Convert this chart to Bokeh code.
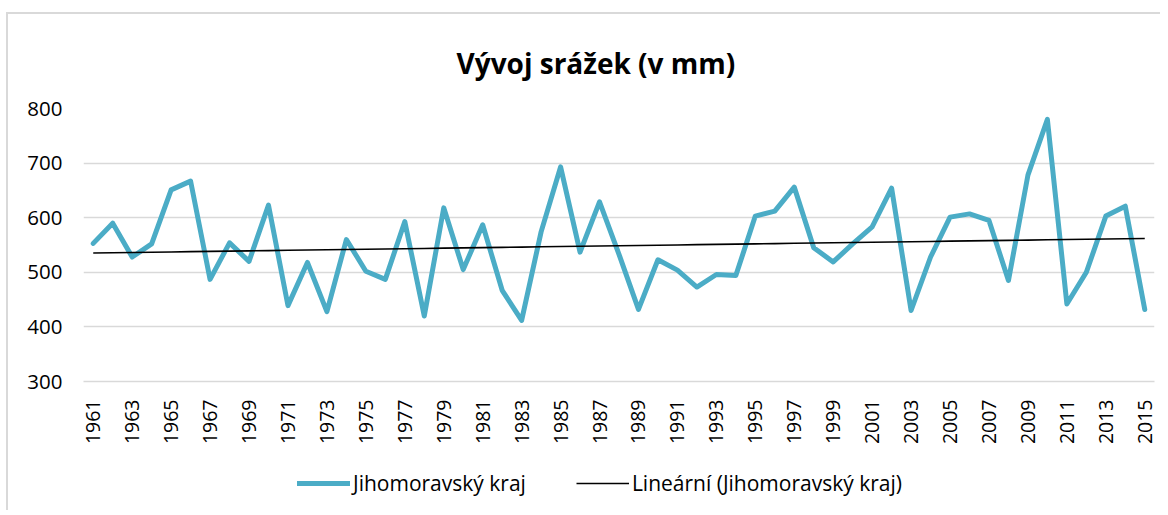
import math
import numpy as np
from bokeh.plotting import figure
from bokeh.layouts import column
from bokeh.models import Range1d, FixedTicker, Legend, LegendItem
from bokeh.embed import file_html
from bokeh.resources import INLINE

# ---- data ----
years = list(range(1961, 2016))
precip = [553, 590, 528, 552, 651, 667, 487, 554, 520, 623,
          439, 518, 428, 560, 502, 487, 593, 420, 618, 505,
          587, 467, 412, 574, 693, 537, 629, 533, 432, 523,
          504, 473, 496, 494, 603, 612, 656, 545, 519, 552,
          583, 654, 430, 528, 601, 607, 595, 485, 678, 780,
          442, 500, 603, 621, 432]
tick_years = list(range(1961, 2016, 2))
y_ticks = [300, 400, 500, 600, 700, 800]
title_text = "Vývoj srážek (v mm)"
series_name = "Jihomoravský kraj"
trend_name = "Lineární (Jihomoravský kraj)"

# linear trend (as Excel's linear trendline)
slope, intercept = np.polyfit(years, precip, 1)
trend = [slope * y + intercept for y in years]

FONT = "Open Sans"
TXT = "#000000"
MAIN_COLOR = "#4bacc6"

p = figure(width=1152, height=436, output_backend="svg", toolbar_location=None,
           x_range=Range1d(1960.5, 2015.5), y_range=Range1d(300, 800),
           min_border_left=75, min_border_right=6, min_border_top=94,
           min_border_bottom=69)

p.title.text = title_text
p.title.text_font = FONT
p.title.text_font_style = "bold"
p.title.text_font_size = "28px"
p.title.align = "left"
p.title.vertical_align = "top"
p.title.offset = 373
p.title.standoff = 50
p.title.text_color = TXT

p.outline_line_color = None
p.background_fill_color = "white"
p.border_fill_color = "white"

p.xgrid.grid_line_color = None
p.ygrid.grid_line_color = "#d9d9d9"
p.ygrid.grid_line_width = 1.5
p.ygrid.ticker = FixedTicker(ticks=y_ticks)

p.yaxis.ticker = FixedTicker(ticks=y_ticks)
p.yaxis.axis_line_color = None
p.yaxis.major_tick_line_color = None
p.yaxis.minor_tick_line_color = None
p.yaxis.major_label_text_font = FONT
p.yaxis.major_label_text_font_size = "20.5px"
p.yaxis.major_label_text_color = TXT
p.yaxis.major_label_standoff = 15

p.xaxis.ticker = FixedTicker(ticks=tick_years)
p.xaxis.axis_line_color = "#d9d9d9"
p.xaxis.axis_line_width = 1.5
p.xaxis.major_tick_line_color = None
p.xaxis.minor_tick_line_color = None
p.xaxis.major_label_orientation = math.pi / 2
p.xaxis.major_label_text_font = FONT
p.xaxis.major_label_text_font_size = "19.5px"
p.xaxis.major_label_text_color = TXT
p.xaxis.major_label_standoff = 12

p.line(years, precip, line_color=MAIN_COLOR, line_width=5,
       line_join="round", line_cap="round")
p.line(years, trend, line_color="#000000", line_width=1.6)

# ---- legend strip (separate figure, same styles; its sample lines lie off-range) ----
lg = figure(width=1152, height=60, output_backend="svg", toolbar_location=None,
            x_range=Range1d(0, 1), y_range=Range1d(0, 1),
            x_axis_location=None, y_axis_location=None,
            min_border=0)
lg.outline_line_color = None
lg.grid.visible = False
lg.border_fill_color = "white"
lr_main = lg.line([-5, -4], [-5, -4], line_color=MAIN_COLOR, line_width=5,
                  line_cap="round")
lr_trend = lg.line([-5, -4], [-5, -4], line_color="#000000", line_width=1.6)

legend = Legend(items=[LegendItem(label=series_name, renderers=[lr_main]),
                       LegendItem(label=trend_name, renderers=[lr_trend])],
                orientation="horizontal", location=(214, 13),
                border_line_color=None, background_fill_alpha=0,
                label_text_font=FONT, label_text_font_size="21px",
                label_text_color=TXT, glyph_width=53, glyph_height=20,
                label_standoff=3, spacing=50, padding=0, margin=0)
lg.add_layout(legend, "center")

layout = column(p, lg, spacing=0, margin=(12, 0, 0, 6),
                styles={"border-left": "2px solid #d9d9d9",
                        "border-top": "2px solid #d9d9d9"})
open("out.html", "w").write(file_html(layout, INLINE))
